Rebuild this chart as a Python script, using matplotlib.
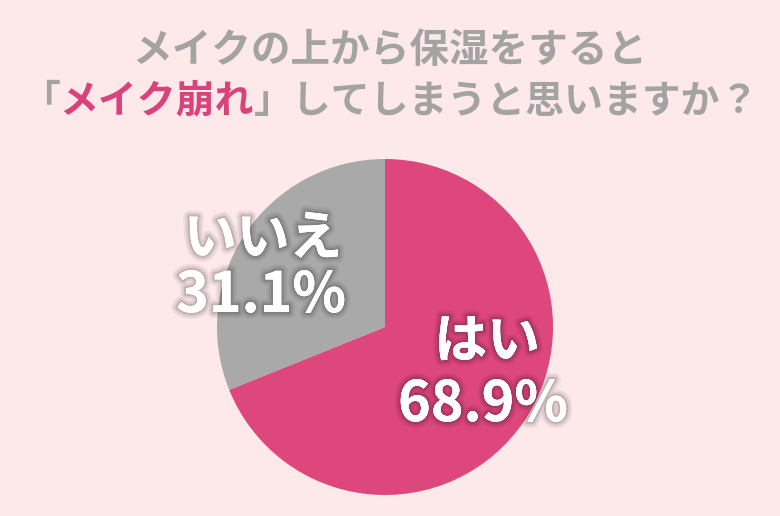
import matplotlib
matplotlib.use('Agg')
import matplotlib.pyplot as plt
import matplotlib.patheffects as pe

# data
labels = ['はい', 'いいえ']
values = [68.9, 31.1]
colors = ['#dd477c', '#a9a9a9']
title1 = 'メイクの上から保湿をすると'
title2_parts = [('「', '#a3a3a3', 'medium'),
                ('メイク崩れ', '#d9437a', 'bold'),
                ('」してしまうと思いますか？', '#a3a3a3', 'medium')]

plt.rcParams['font.family'] = ['Noto Sans CJK JP', 'DejaVu Sans']
bg = '#fde8ea'

fig = plt.figure(figsize=(7.8, 5.16), dpi=100, facecolor=bg)

# pie axes: center (385, 327) px, radius ~168 px
cx, cy, r = 385, 327, 168
W, H = 780, 516
ax = fig.add_axes([(cx - r) / W, (H - cy - r) / H, 2 * r / W, 2 * r / H])
ax.set_facecolor(bg)
ax.pie(values, colors=colors, startangle=90, counterclock=False,
       radius=1, wedgeprops=dict(linewidth=0))
ax.set_xlim(-1, 1)
ax.set_ylim(-1, 1)
ax.set_aspect('equal')
ax.axis('off')

# soft glow-like shadow
shadow = [pe.withStroke(linewidth=9, foreground='#000000', alpha=0.05),
          pe.withStroke(linewidth=6, foreground='#000000', alpha=0.08),
          pe.withStroke(linewidth=3, foreground='#000000', alpha=0.12),
          pe.Normal()]

def px(x, y):
    return x / W, 1 - y / H

# slice labels
fig.text(*px(487, 342), labels[0], color='white', fontsize=38, fontweight='bold',
         ha='center', va='center', path_effects=shadow)
fig.text(*px(483, 405), f'{values[0]}%', color='white', fontsize=40, fontweight='bold',
         ha='center', va='center', path_effects=shadow)
fig.text(*px(263, 239), labels[1], color='white', fontsize=38, fontweight='bold',
         ha='center', va='center', path_effects=shadow)
fig.text(*px(261, 296), f'{values[1]}%', color='white', fontsize=40, fontweight='bold',
         ha='center', va='center', path_effects=shadow)

# title line 1
fig.text(*px(390, 50), title1, color='#a3a3a3', fontsize=28.5, fontweight='bold',
         ha='center', va='center')

# title line 2 in pieces
renderer = fig.canvas.get_renderer()
texts = []
for s, c, w in title2_parts:
    t = fig.text(0, 1 - 101 / H, s, color=c, fontsize=28, fontweight='bold', ha='left', va='center')
    texts.append(t)
widths = [t.get_window_extent(renderer).width for t in texts]
total = sum(widths)
x0 = 390 - total / 2
for t, w in zip(texts, widths):
    t.set_x(x0 / W)
    x0 += w

fig.savefig('out.png', dpi=100, facecolor=bg)
